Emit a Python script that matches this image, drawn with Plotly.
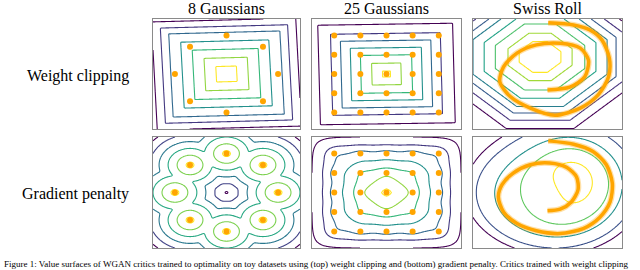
import numpy as np
import plotly.graph_objects as go

W, H = 640, 270

col_titles = ["8 Gaussians", "25 Gaussians", "Swiss Roll"]
row_titles = ["Weight clipping", "Gradient penalty"]
caption = ("Figure 1: Value surfaces of WGAN critics trained to optimality on toy datasets using (top) "
           "weight clipping and (bottom) gradient penalty. Critics trained with weight clipping")

# ---- data ----
g8_x = [2.0, 1.414, 0.0, -1.414, -2.0, -1.414, 0.0, 1.414]
g8_y = [0.0, 1.414, 2.0, 1.414, 0.0, -1.414, -2.0, -1.414]

g25_x = [-2, -1, 0, 1, 2] * 5
g25_y = [-2] * 5 + [-1] * 5 + [0] * 5 + [1] * 5 + [2] * 5

swiss_top_x = [0.00, 0.30, 0.50, 0.55, 0.44, 0.17, -0.15, -0.41, -0.59, -0.64, -0.50,
               -0.23, 0.10, 0.44, 0.68, 0.82, 0.83, 0.73, 0.57, 0.35, 0.01]
swiss_top_y = [-0.29, -0.24, -0.05, 0.25, 0.47, 0.56, 0.53, 0.38, 0.13, -0.14, -0.41,
               -0.62, -0.75, -0.62, -0.38, -0.05, 0.29, 0.62, 0.80, 0.89, 0.93]

swiss_bot_x = [0.00, 0.17, 0.32, 0.41, 0.39, 0.26, 0.03, -0.23, -0.46, -0.61, -0.66, -0.59,
               -0.41, -0.15, 0.17, 0.48, 0.70, 0.84, 0.87, 0.79, 0.61, 0.35, 0.01]
swiss_bot_y = [-0.33, -0.30, -0.17, 0.05, 0.28, 0.45, 0.53, 0.50, 0.35, 0.14, -0.08, -0.35,
               -0.56, -0.69, -0.74, -0.65, -0.45, -0.17, 0.17, 0.50, 0.74, 0.87, 0.93]

# contour levels (distance-like, innermost first)
lev_wc8 = [0.40, 0.84, 1.28, 1.71, 2.16, 2.47, 2.80]
lev_wc25 = [0.15, 0.56, 0.98, 1.36, 1.73, 2.10, 2.58]
lev_wcsw = [0.28, 0.43, 0.60, 0.75, 0.90, 1.02, 1.15, 1.30]
lev_gp8 = [0.15, 0.50, 0.85, 1.20, 1.55, 1.90]
lev_gp25 = [0.05, 0.74, 1.18, 1.62, 2.05, 2.42, 2.85]
lev_gpsw = [0.07, 0.27, 0.52, 0.80, 0.97]

LG = 2.85   # half range of gaussian panels
LS = 1.0    # half range of swiss roll panels

# ---- layout geometry (pixels) ----
col_px = [(153, 300), (312, 461), (473, 622)]
row_px = [(19, 129), (137, 248)]


def xdom(c):
    return [col_px[c][0] / W, col_px[c][1] / W]


def ydom(r):
    return [1 - row_px[r][1] / H, 1 - row_px[r][0] / H]


def level_z(d, lev):
    lev = np.asarray(lev, float)
    n = len(lev)
    el = np.concatenate([[lev[0] - 10 * (lev[1] - lev[0])], lev, [lev[-1] + 10 * (lev[-1] - lev[-2])]])
    ei = np.concatenate([[-10.0], np.arange(n, dtype=float), [n - 1 + 10.0]])
    return -np.interp(d, el, ei)


def curve_samples(px, py, step=0.01):
    xs, ys = [], []
    for i in range(len(px) - 1):
        seg = np.hypot(px[i + 1] - px[i], py[i + 1] - py[i])
        k = max(2, int(seg / step))
        t = np.linspace(0, 1, k, endpoint=False)
        xs.append(px[i] + t * (px[i + 1] - px[i]))
        ys.append(py[i] + t * (py[i + 1] - py[i]))
    return np.concatenate(xs), np.concatenate(ys)


N = 161
gx = np.linspace(-LG, LG, N)
GX, GY = np.meshgrid(gx, gx)
sx = np.linspace(-LS, LS, N)
SX, SY = np.meshgrid(sx, sx)

# panel 1: weight clipping 8 gaussians
d1 = np.maximum(np.abs(GX + 0.04 * GY), np.abs(GY - 0.035 * GX))
# panel 2: weight clipping 25 gaussians
d2 = np.maximum(np.abs(GX + 0.02 * GY), np.abs(GY - 0.02 * GX))
# panel 3: weight clipping swiss roll
dx, dy = SX + 0.10, SY - 0.31
d3 = np.maximum(np.maximum(np.abs(dx), np.abs(dy)), (np.abs(dx) + np.abs(dy)) / 1.35)
# panel 4: gradient penalty 8 gaussians (soft nearest distance)
c8x, c8y = np.array(g8_x), np.array(g8_y)
D8 = np.hypot(GX[..., None] - c8x, GY[..., None] - c8y)
t = 0.04
d4 = -t * np.log(np.exp(-D8 / t).sum(-1))
# panel 5: gradient penalty 25 gaussians (diamond near centre -> square outside, with ripples)
c25x, c25y = np.array(g25_x, float), np.array(g25_y, float)
R2 = np.hypot(GX, GY)
p = np.clip(1.15 + 0.9 * R2 ** 1.5, 1.15, 9.0)
base = (np.abs(GX) ** p + np.abs(GY) ** p) ** (1.0 / p)
D25 = (GX[..., None] - c25x) ** 2 + (GY[..., None] - c25y) ** 2
bump = np.exp(-D25 / (2 * 0.28 ** 2)).sum(-1)
d5 = base - 0.11 * bump
d5 = d5 - 0.10 * np.exp(-(GX ** 2 + GY ** 2) / (2 * 0.15 ** 2))
# panel 6: gradient penalty swiss roll (kernel density of the roll)
qx, qy = curve_samples(swiss_bot_x, swiss_bot_y)
K = np.exp(-((SX[..., None] - qx) ** 2 + (SY[..., None] - qy) ** 2) / (2 * 0.40 ** 2)).sum(-1)
d6 = 1 - K / K.max() + 0.15 * ((SX - 0.02) ** 2 + (SY - 0.28) ** 2)
d6 = d6 - d6.min()

panels = [
    (0, 0, gx, d1, lev_wc8, 0),
    (0, 1, gx, d2, lev_wc25, 0),
    (0, 2, sx, d3, lev_wcsw, 0),
    (1, 0, gx, d4, lev_gp8, 1),
    (1, 1, gx, d5, lev_gp25, 1),
    (1, 2, sx, d6, lev_gpsw, 1),
]

fig = go.Figure()
ORANGE = "#FFA500"

for i, (r, c, g, d, lev, sm) in enumerate(panels):
    k = i + 1
    xa = "x" if k == 1 else f"x{k}"
    ya = "y" if k == 1 else f"y{k}"
    n = len(lev)
    z = level_z(d, lev)
    fig.add_trace(go.Contour(
        x=g, y=g, z=z, xaxis=xa, yaxis=ya,
        colorscale="Viridis", zauto=False, zmin=-(n - 1), zmax=0,
        contours=dict(coloring="lines", start=-(n - 1), end=0, size=1, showlabels=False),
        line=dict(width=1.1, smoothing=sm * 1.0),
        showscale=False, hoverinfo="skip",
    ))
    if c == 0:
        fig.add_trace(go.Scatter(x=g8_x, y=g8_y, mode="markers", xaxis=xa, yaxis=ya,
                                 marker=dict(color=ORANGE, size=6), hoverinfo="skip"))
    elif c == 1:
        fig.add_trace(go.Scatter(x=g25_x, y=g25_y, mode="markers", xaxis=xa, yaxis=ya,
                                 marker=dict(color=ORANGE, size=6), hoverinfo="skip"))
    else:
        bx, by = (swiss_top_x, swiss_top_y) if r == 0 else (swiss_bot_x, swiss_bot_y)
        fig.add_trace(go.Scatter(x=bx, y=by, mode="lines", xaxis=xa, yaxis=ya,
                                 line=dict(color=ORANGE, width=6, shape="spline", smoothing=0.8),
                                 opacity=0.35, hoverinfo="skip"))
        fig.add_trace(go.Scatter(x=bx, y=by, mode="lines", xaxis=xa, yaxis=ya,
                                 line=dict(color=ORANGE, width=3.5, shape="spline", smoothing=0.8),
                                 hoverinfo="skip"))
    rng = [-LG, LG] if c < 2 else [-LS, LS]
    axcommon = dict(showticklabels=False, showgrid=False, zeroline=False, ticks="",
                    showline=True, mirror=True, linecolor="#8a8a8a", linewidth=1.2, range=rng)
    xname = "xaxis" if k == 1 else f"xaxis{k}"
    yname = "yaxis" if k == 1 else f"yaxis{k}"
    fig.layout[xname] = dict(domain=xdom(c), anchor=ya, **axcommon)
    fig.layout[yname] = dict(domain=ydom(r), anchor=xa, **axcommon)

ann = []
serif = "Liberation Serif, Times New Roman, serif"
for c, t_ in enumerate(col_titles):
    ann.append(dict(text=t_, x=sum(xdom(c)) / 2, y=1 - 8 / H, xref="paper", yref="paper",
                    xanchor="center", yanchor="middle", showarrow=False,
                    font=dict(family=serif, size=16, color="black")))
for r, (t_, yc) in enumerate(zip(row_titles, [76, 194])):
    ann.append(dict(text=t_, x=131 / W, y=1 - yc / H, xref="paper", yref="paper",
                    xanchor="right", yanchor="middle", showarrow=False,
                    font=dict(family=serif, size=16, color="black")))
ann.append(dict(text=caption, x=2 / W, y=1 - 263.5 / H, xref="paper", yref="paper",
                xanchor="left", yanchor="middle", showarrow=False,
                font=dict(family=serif, size=9, color="black")))

fig.update_layout(width=W, height=H, margin=dict(l=0, r=0, t=0, b=0),
                  paper_bgcolor="white", plot_bgcolor="white", showlegend=False,
                  annotations=ann)

fig.write_html("out.html", config={"displayModeBar": False, "staticPlot": True},
               post_script="document.body.style.margin='0';document.body.style.overflow='hidden';")
